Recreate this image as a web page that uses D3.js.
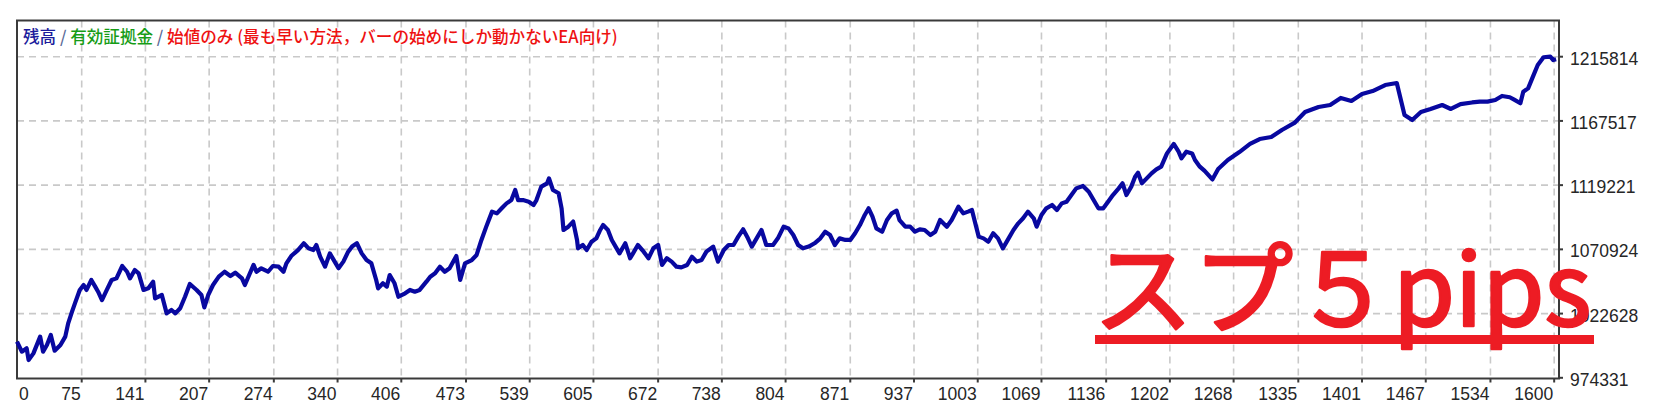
<!DOCTYPE html>
<html>
<head>
<meta charset="utf-8">
<script src="https://cdn.jsdelivr.net/npm/d3@7"></script>
<style>
  body { margin: 0; background: #fff; }
  svg { display: block; }
</style>
</head>
<body>
<svg id="chart" width="1675" height="417"></svg>
<script>
// trade number / balance
var tradeNo = [
  8,13,18,20,25,32,35,39,43,47,53,58,61,65,68,73,77,80,85,89,92,96,101,106,111,117,122,125,130,134,
  139,144,149,151,158,163,168,172,177,182,187,194,199,202,206,211,217,223,229,234,241,244,248,253,256,261,268,273,279,284,
  287,292,299,305,310,315,318,322,327,332,337,341,346,351,355,360,365,370,375,380,382,387,391,394,399,403,
  410,415,420,425,432,436,441,446,451,456,463,467,472,479,484,489,494,500,505,510,515,520,524,527,532,538,543,546,551,557,
  559,563,569,572,574,579,584,588,589,594,598,603,608,612,615,620,624,629,632,638,643,646,651,657,662,667,672,676,681,686,
  691,696,702,707,712,717,722,729,734,740,745,750,755,760,765,769,774,779,784,791,796,802,807,812,817,
  822,828,834,840,845,850,855,860,866,871,876,881,886,890,894,898,904,909,914,919,922,928,933,938,943,948,954,959,964,971,
  976,983,988,993,997,1000,1004,1009,1014,1019,1024,1029,1035,1040,1045,1050,1055,1061,1064,1069,1074,1080,1085,1090,1095,
  1100,1105,1112,1118,1123,1128,1133,1138,1143,1149,1153,1157,1162,1166,1169,1173,1178,1183,1188,1193,1199,1206,1211,1214,
  1219,1225,1228,1233,1238,1246,1252,1262,1274,1285,1295,1307,1318,1331,1342,1356,1368,1379,1390,1401,1412,1425,1437,1445,
  1453,1462,1472,1484,1493,1503,1515,1523,1531,1539,1546,1554,1559,1565,1568,1573,1578,1583,1589,1596,1599,1602
];
var balance = [
  1001500,994000,996500,987700,992700,1005300,994000,999000,1006500,994700,999000,1005300,1015300,1024100,1030300,1040400,1044100,1040400,1047900,1042900,
  1039100,1032800,1040400,1047900,1049100,1058400,1054100,1049100,1055400,1052900,1040400,1041600,1046600,1034100,1036600,1022800,1025300,1022800,1026600,1035300,
  1044900,1040400,1036600,1027300,1036600,1044100,1050400,1054100,1050900,1053400,1049100,1044100,1050900,1059200,1054100,1056700,1054100,1058400,1057900,1054100,
  1060400,1065900,1070400,1075500,1071700,1070400,1074200,1065400,1057900,1067900,1061700,1056700,1061700,1069200,1073000,1075500,1067900,1062900,1060400,1047900,
  1041600,1045400,1042900,1051600,1045400,1035300,
  1037900,1040400,1039100,1040400,1046600,1050400,1052900,1057900,1054100,1056700,1065900,1047900,1060400,1062900,1066700,1078000,1088000,1099300,1098000,1101800,
  1105500,1108000,1115600,1108000,1108000,1106800,1104300,1108000,1118100,1120600,1124300,1115600,1113100,1101800,1085500,1088000,1091800,1078000,1071700,1074200,
  1070400,1076700,1079200,1085500,1089200,1085500,1078000,1071700,1067900,1075500,1064200,1067900,1074200,1069200,1064200,1071700,1074200,1059200,1064200,1061700,
  1057900,1057400,1059200,1065400,1061700,1062900,1069200,1073000,1061700,1070400,1074200,1074200,1080500,1086000,1079200,1073000,1079200,1085500,1074200,1074200,
  1079200,1088000,1086700,1081700,1074200,
  1071700,1073000,1075500,1079200,1084200,1081700,1074200,1079200,1078000,1078000,1083000,1089200,1096800,1101800,1095500,1086700,1084200,1093000,1098000,1100000,
  1093000,1088000,1088000,1084200,1086000,1085500,1081700,1084200,1093000,1088000,1093000,1103000,1098000,1099300,1100500,1091800,1080500,1079200,1076700,1083000,
  1079200,1071700,1079200,1085500,1090500,1094300,1099300,1094300,1088000,1096800,1101800,1104300,1100500,1105500,1106800,1111800,1116800,1118600,1114300,1108000,
  1101800,1101800,1106800,1111800,1116800,1120600,1111800,1118100,1125600,1128600,1120600,1124300,1128100,1131100,1133100,1143100,1150200,1144400,1139400,1144400,
  1143100,1138100,1133100,
  1129900,1123500,1131400,1138100,1144100,1150200,1153900,1155400,1160700,1166000,1174200,1178000,1179500,1184800,1182500,1187800,1190000,1194500,1196000,1172000,
  1168200,1174200,1176500,1179500,1176500,1180200,1181400,1182000,1182000,1183300,1186300,1185300,1183300,1180800,1189500,1192000,1200800,1209600,1215400,1215800,
  1213300,1213900
];
var xTickValues = [0,75,141,207,274,340,406,473,539,605,672,738,804,871,937,1003,1069,1136,1202,1268,1335,1401,1467,1534,1600];
var yTickValues = [974331,1022628,1070924,1119221,1167517,1215814];
var titleParts = ["残高", " / ", "有効証拠金", " / ", "始値のみ (最も早い方法，バーの始めにしか動かないEA向け)"];
var stampText = "スプ５pips";

var titleColors = ["#1c1c9c", "#5a6a96", "#169c16", "#5a6a96", "#ee1111"];
var plotLeft = 17, plotRight = 1559, plotTop = 20.5, plotBottom = 378.5;

var svg = d3.select("#chart");

var xScale = d3.scaleLinear()
    .domain([8, 1605])
    .range([plotLeft, plotRight]);

var yScale = d3.scaleLinear()
    .domain([973805, 1243038])
    .range([plotBottom, plotTop]);

function xTickPos(v){
    return v === 0 ? plotLeft : xScale(v);
}

function drawGrid(){
    var g = svg.append("g").attr("class", "grid");

    g.selectAll(".vgrid")
        .data(xTickValues.filter(function(d){ return d > 0; }))
        .enter().append("line")
        .attr("class", "vgrid")
        .attr("x1", function(d){ return xScale(d); })
        .attr("x2", function(d){ return xScale(d); })
        .attr("y1", plotTop)
        .attr("y2", plotBottom)
        .attr("stroke", "#c9c9c9")
        .attr("stroke-width", 1.6)
        .attr("stroke-dasharray", "7,5");

    g.selectAll(".hgrid")
        .data(yTickValues.slice(1))
        .enter().append("line")
        .attr("class", "hgrid")
        .attr("x1", plotLeft)
        .attr("x2", plotRight)
        .attr("y1", function(d){ return yScale(d); })
        .attr("y2", function(d){ return yScale(d); })
        .attr("stroke", "#c9c9c9")
        .attr("stroke-width", 1.6)
        .attr("stroke-dasharray", "7,5");
}

function drawAxes(){
    var g = svg.append("g").attr("class", "axes");

    g.append("rect")
        .attr("x", plotLeft)
        .attr("y", plotTop)
        .attr("width", plotRight - plotLeft)
        .attr("height", plotBottom - plotTop)
        .attr("fill", "none")
        .attr("stroke", "#3a3a3a")
        .attr("stroke-width", 2);

    g.selectAll(".xtick")
        .data(xTickValues.filter(function(d){ return d > 0; }))
        .enter().append("line")
        .attr("class", "xtick")
        .attr("x1", function(d){ return xScale(d); })
        .attr("x2", function(d){ return xScale(d); })
        .attr("y1", plotBottom)
        .attr("y2", plotBottom + 4)
        .attr("stroke", "#3a3a3a")
        .attr("stroke-width", 2);

    g.selectAll(".xlabel")
        .data(xTickValues)
        .enter().append("text")
        .attr("class", "xlabel")
        .attr("x", function(d){ return d === 0 ? xTickPos(d) + 2 : xTickPos(d) - 1; })
        .attr("y", 400)
        .attr("text-anchor", function(d){ return d === 0 ? "start" : "end"; })
        .text(function(d){ return d; });

    g.selectAll(".ytick")
        .data(yTickValues)
        .enter().append("line")
        .attr("class", "ytick")
        .attr("x1", plotRight)
        .attr("x2", plotRight + 4)
        .attr("y1", function(d){ return yScale(d); })
        .attr("y2", function(d){ return yScale(d); })
        .attr("stroke", "#3a3a3a")
        .attr("stroke-width", 2);

    g.selectAll(".ylabel")
        .data(yTickValues)
        .enter().append("text")
        .attr("class", "ylabel")
        .attr("x", 1570)
        .attr("y", function(d){ return yScale(d) + 8; })
        .text(function(d){ return d; });

    g.selectAll(".xlabel, .ylabel")
        .attr("font-family", "'Liberation Sans', Arial, sans-serif")
        .attr("font-size", "17.5px")
        .attr("fill", "#262626");
}

function drawBalance(){
    var pts = tradeNo.map(function(n, i){ return {n: n, v: balance[i]}; });

    var line = d3.line()
        .x(function(d){ return xScale(d.n); })
        .y(function(d){ return yScale(d.v); });

    svg.append("path")
        .attr("class", "balance")
        .attr("d", line(pts))
        .attr("fill", "none")
        .attr("stroke", "#0808a0")
        .attr("stroke-width", 4.2)
        .attr("stroke-linejoin", "round");
}

function drawTitle(){
    var t = svg.append("text")
        .attr("x", 23)
        .attr("y", 43)
        .attr("font-family", "'Noto Sans CJK JP', sans-serif")
        .attr("font-weight", 500)
        .attr("font-size", "16.6px");

    t.selectAll("tspan")
        .data(titleParts)
        .enter().append("tspan")
        .attr("fill", function(d, i){ return titleColors[i]; })
        .text(function(d){ return d; });
}

function drawStamp(){
    var g = svg.append("g").attr("class", "stamp");

    g.append("text")
        .attr("x", 1093)
        .attr("y", 326)
        .attr("font-family", "'Noto Sans CJK JP', sans-serif")
        .attr("font-size", "100px")
        .attr("fill", "#ed1c24")
        .attr("stroke", "#ed1c24")
        .attr("stroke-width", 2.6)
        .attr("stroke-linejoin", "round")
        .text(stampText);

    g.append("rect")
        .attr("x", 1095)
        .attr("y", 335)
        .attr("width", 499)
        .attr("height", 9)
        .attr("fill", "#ed1c24");
}

drawGrid();
drawAxes();
drawBalance();
drawTitle();
drawStamp();
</script>
</body>
</html>
